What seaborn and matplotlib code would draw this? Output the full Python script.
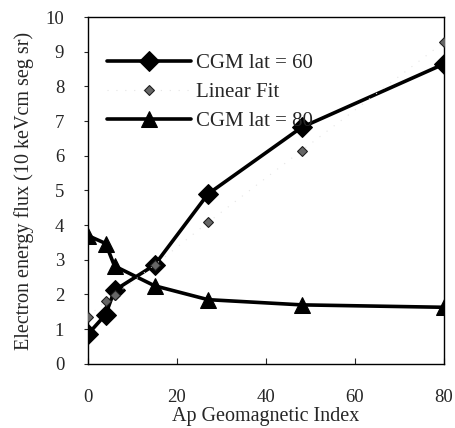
import matplotlib
matplotlib.use("Agg")
import matplotlib.pyplot as plt
import seaborn as sns
import pandas as pd

ap_index = [0, 4, 6, 15, 27, 48, 80]
flux_lat60 = [0.85, 1.42, 2.12, 2.85, 4.9, 6.82, 8.65]
flux_fit = [1.36, 1.8, 1.98, 2.85, 4.08, 6.15, 9.28]
flux_lat80 = [3.7, 3.47, 2.82, 2.25, 1.85, 1.7, 1.63]

sns.set_style("ticks")
plt.rcParams['font.family'] = ['Liberation Serif', 'DejaVu Serif']

fig = plt.figure(figsize=(4.55, 4.28), dpi=100)
ax = fig.add_axes([0.193, 0.150, 0.783, 0.810])

df60 = pd.DataFrame({"x": ap_index, "y": flux_lat60})
dffit = pd.DataFrame({"x": ap_index, "y": flux_fit})
df80 = pd.DataFrame({"x": ap_index, "y": flux_lat80})

sns.lineplot(data=df60, x="x", y="y", ax=ax, color="black", linewidth=2.6,
             marker="D", markersize=10, markeredgecolor="black",
             label="CGM lat = 60", zorder=3)
sns.lineplot(data=df80, x="x", y="y", ax=ax, color="black", linewidth=2.6,
             marker="^", markersize=12, markeredgecolor="black",
             label="CGM lat = 80", zorder=3)
sns.lineplot(data=dffit, x="x", y="y", ax=ax, color="#e4e4e4", linewidth=0.8,
             linestyle=(0, (1, 7)), marker="D", markersize=5.5,
             markerfacecolor="#666666", markeredgecolor="#1a1a1a",
             label="Linear Fit", zorder=4)

ax.set_xlim(0, 80)
ax.set_ylim(0, 10)
ax.set_xticks([0, 20, 40, 60, 80])
ax.set_yticks(range(0, 11))
ax.tick_params(axis="x", direction="in", length=4, pad=18, labelsize=13.5)
ax.tick_params(axis="y", direction="out", length=3, pad=14, labelsize=13.5)
for s in ax.spines.values():
    s.set_linewidth(1.0)
    s.set_color("black")
    s.set_visible(True)

ax.set_xlabel("Ap Geomagnetic Index", fontsize=14.5, labelpad=1)
ax.set_ylabel("Electron energy flux (10 keVcm seg sr)", fontsize=14.5, labelpad=8)

h, l = ax.get_legend_handles_labels()
order = [l.index("CGM lat = 60"), l.index("Linear Fit"), l.index("CGM lat = 80")]
ax.legend([h[i] for i in order], [l[i] for i in order], loc="upper left",
          bbox_to_anchor=(0.02, 0.93), frameon=False, fontsize=15,
          handlelength=4.0, labelspacing=0.45, handletextpad=0.25,
          borderaxespad=0.2)

fig.savefig("out.png", dpi=100)
